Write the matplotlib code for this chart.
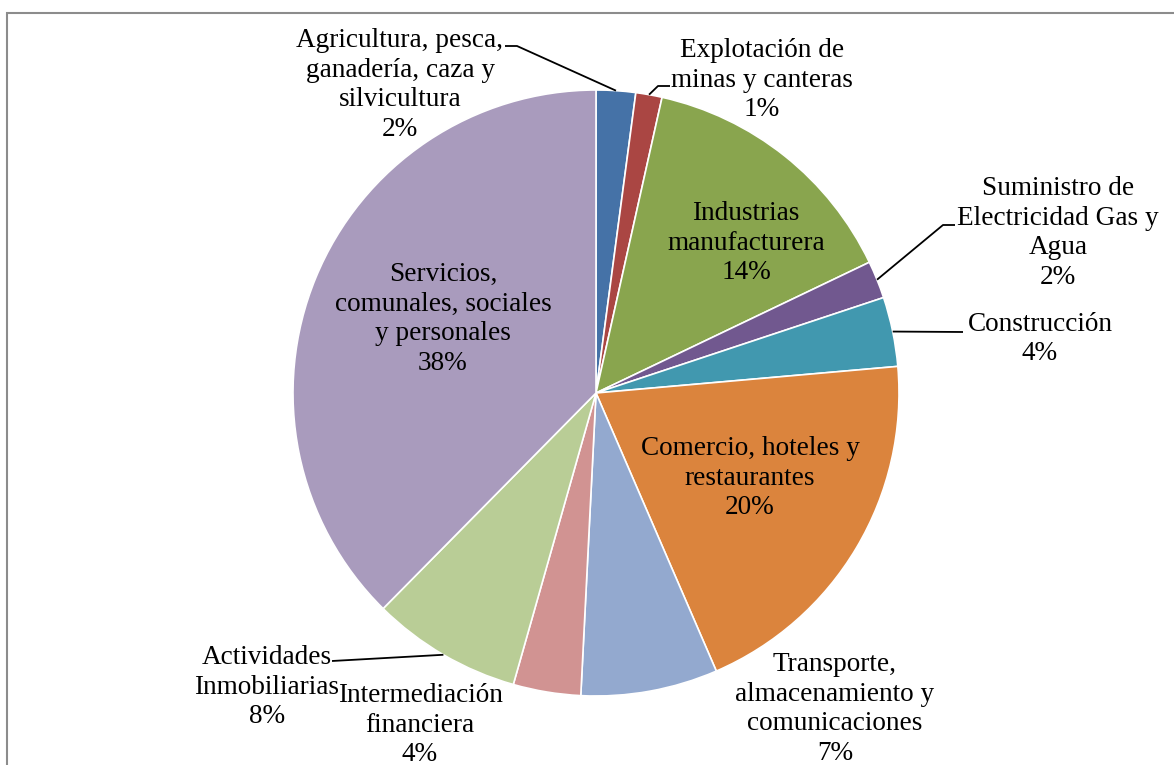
import numpy as np
import matplotlib.pyplot as plt
from matplotlib.patches import Rectangle

sectors = ['Agricultura, pesca,\nganadería, caza y\nsilvicultura',
           'Explotación de\nminas y canteras',
           'Industrias\nmanufacturera',
           'Suministro de\nElectricidad Gas y\nAgua',
           'Construcción',
           'Comercio, hoteles y\nrestaurantes',
           'Transporte,\nalmacenamiento y\ncomunicaciones',
           'Intermediación\nfinanciera',
           'Actividades\nInmobiliarias',
           'Servicios,\ncomunales, sociales\ny personales']
shares = [2.1, 1.4, 14.4, 2.0, 3.7, 19.9, 7.3, 3.6, 8.0, 37.6]
colors = ['#4572A7', '#AA4643', '#89A54E', '#71588F', '#4198AF',
          '#DB843D', '#93A9CF', '#D19392', '#B9CD96', '#A99BBD']

W, H = 1174, 765
fig = plt.figure(figsize=(W / 100, H / 100), dpi=100)
ax = fig.add_axes([0, 0, 1, 1])

cx, cy, r = 596, H - 393, 303
ax.pie(shares, colors=colors, startangle=90, counterclock=False,
       center=(cx, cy), radius=r, frame=True,
       wedgeprops=dict(edgecolor='white', linewidth=1.2))
ax.set_xlim(0, W)
ax.set_ylim(0, H)
ax.set_aspect('equal')
ax.axis('off')

# label centres (pixel coords, y down) and optional leader elbows
label_pos = [(400, 85), (762, 80), (746, 243), (1058, 233), (1040, 339),
             (750, 478), (835, 709), (420, 725), (267, 687), (443, 319)]
leaders = {0: [(517, 46), (505, 46)],
           1: [(658, 86), (670, 86)],
           3: [(943, 225), (955, 225)],
           4: [(963, 332)],
           8: [(332, 661)]}

cum = np.cumsum([0] + shares[:-1])
for i, (name, v) in enumerate(zip(sectors, shares)):
    x, y = label_pos[i]
    ax.text(x, H - y, f'{name}\n{round(v)}%', ha='center', va='center',
            fontsize=19.6, family='Liberation Serif', linespacing=1.24,
            color='black')
    if i in leaders:
        ang = np.deg2rad(90 - (cum[i] + v / 2) * 3.6)
        px = [cx + r * np.cos(ang)] + [p[0] for p in leaders[i]]
        py = [cy + r * np.sin(ang)] + [H - p[1] for p in leaders[i]]
        ax.plot(px, py, color='black', lw=1.3, solid_capstyle='butt')

fig.patches.append(Rectangle((7 / W, -0.1), 1.2, 1 - 13 / H + 0.1,
                             transform=fig.transFigure, fill=False,
                             edgecolor='#8c8c8c', linewidth=1.5))

fig.savefig('out.png', dpi=100)
